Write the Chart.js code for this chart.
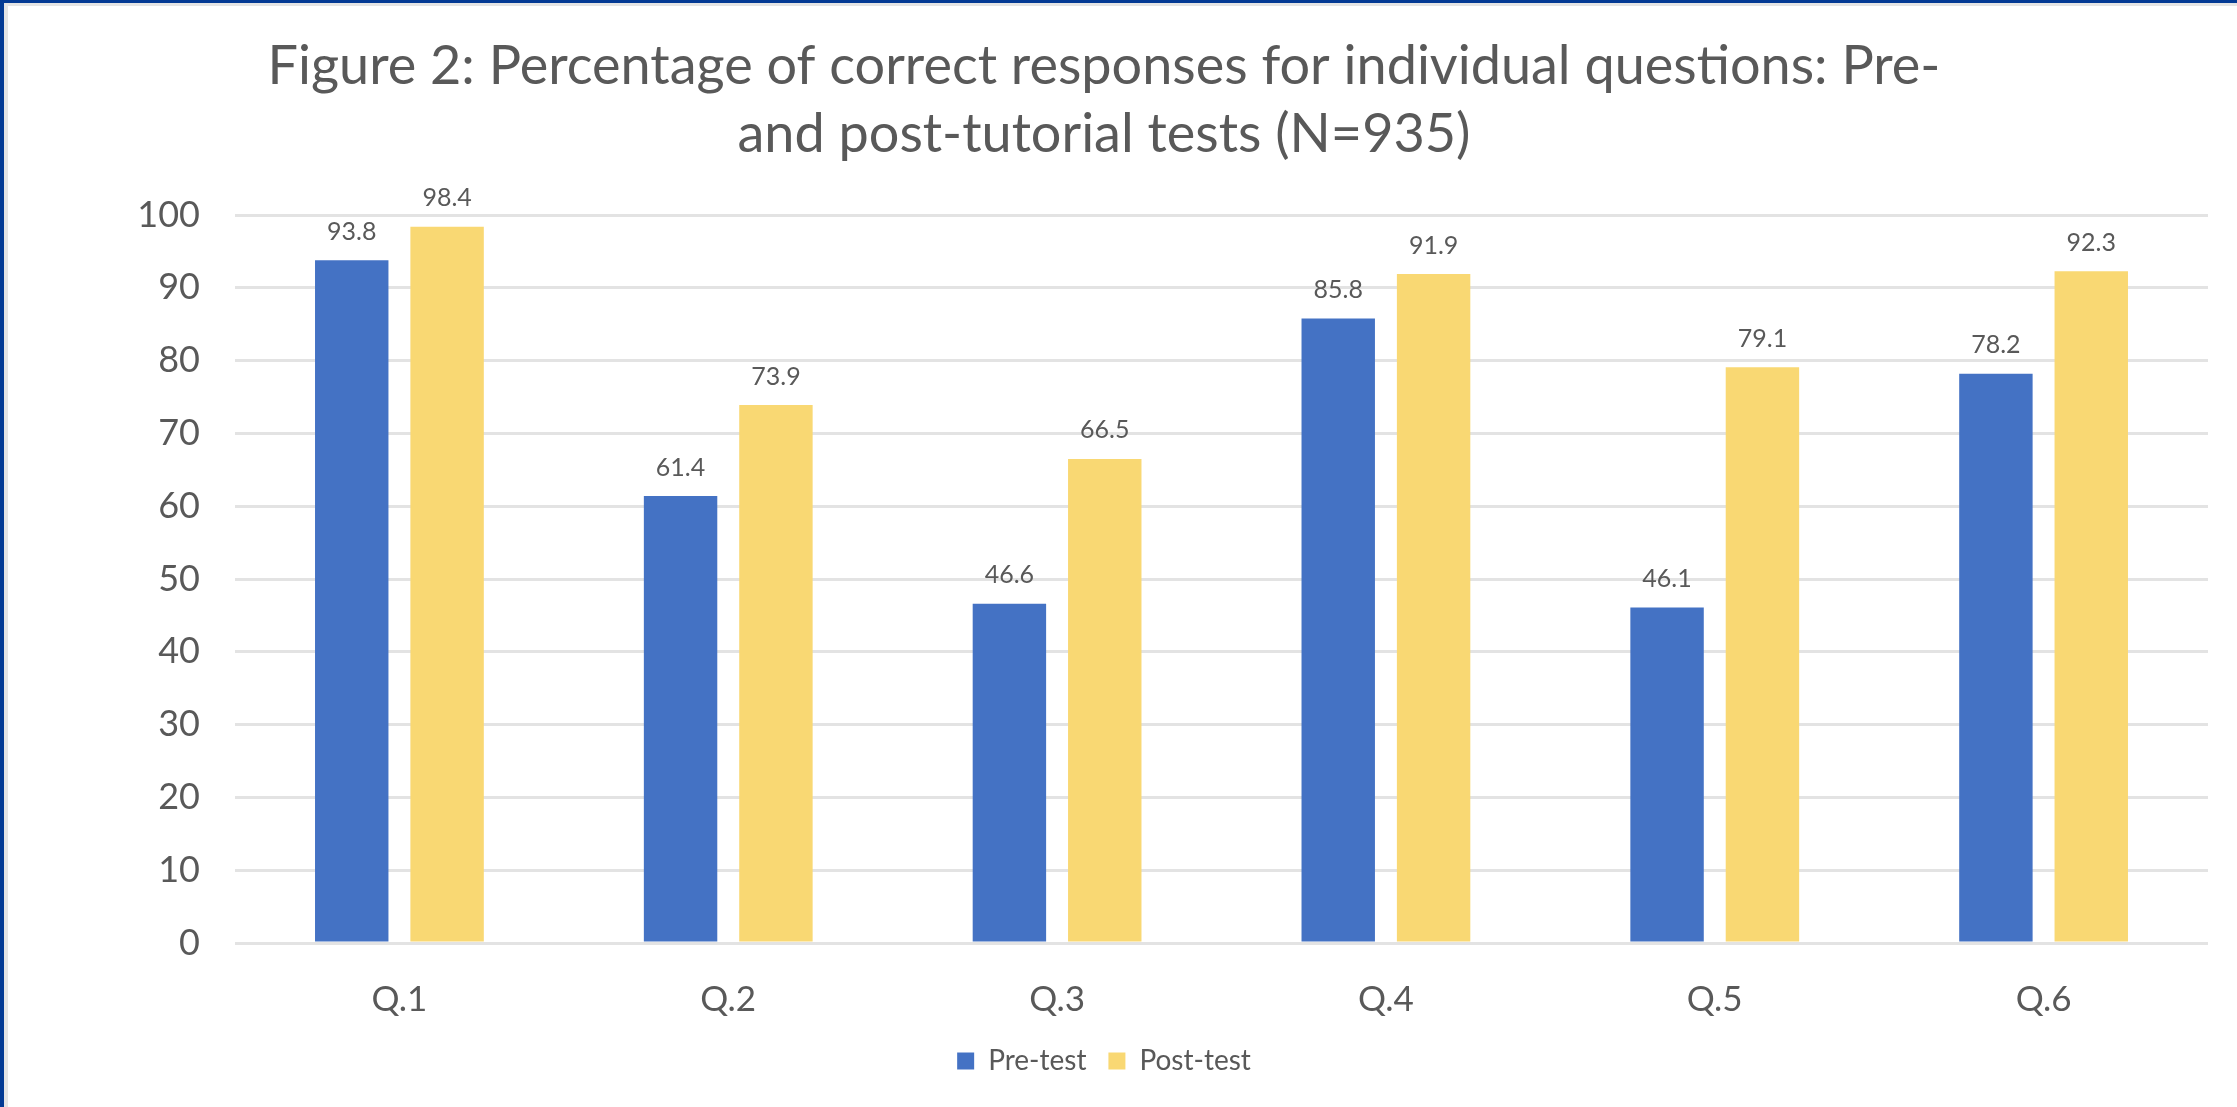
<!DOCTYPE html>
<html>
<head>
<meta charset="utf-8">
<script src="https://cdn.jsdelivr.net/npm/chart.js@4/dist/chart.umd.min.js"></script>
<style>
  html, body { margin: 0; padding: 0; background: #fff; }
  #wrap { position: relative; width: 2237px; height: 1107px; }
  #frame { position: absolute; left: 0; top: 0; width: 2237px; height: 1107px; box-sizing: border-box;
           border-left: 4px solid #033a94; border-top: 3px solid #033a94; pointer-events: none; }
  #frame2 { position: absolute; left: 4px; top: 3px; width: 2233px; height: 1104px; box-sizing: border-box;
            border-left: 4px solid #e4e4e4; border-top: 3px solid #e4e4e4; pointer-events: none; }
</style>
</head>
<body>
<div id="wrap">
  <canvas id="myChart" width="2237" height="1107"></canvas>
  <div id="frame"></div>
  <div id="frame2"></div>
</div>
<script>
// data
var questions = ['Q.1', 'Q.2', 'Q.3', 'Q.4', 'Q.5', 'Q.6'];
var preTest = [93.8, 61.4, 46.6, 85.8, 46.1, 78.2];
var postTest = [98.4, 73.9, 66.5, 91.9, 79.1, 92.3];
var yTicks = [0, 10, 20, 30, 40, 50, 60, 70, 80, 90, 100];

var textGrey = '#595959';
var fontName = 'Lato';

// numbers above the bars
var valueLabels = {
  id: 'valueLabels',
  afterDatasetsDraw: function(chart) {
    var ctx = chart.ctx;
    ctx.save();
    ctx.font = '25px ' + fontName;
    ctx.fillStyle = textGrey;
    ctx.textAlign = 'center';
    ctx.textBaseline = 'bottom';
    chart.data.datasets.forEach(function(ds, i) {
      chart.getDatasetMeta(i).data.forEach(function(bar, j) {
        ctx.fillText(ds.data[j].toFixed(1), bar.x, bar.y - 16);
      });
    });
    ctx.restore();
  }
};

var ctx = document.getElementById('myChart').getContext('2d');
var chart = new Chart(ctx, {
  type: 'bar',
  data: {
    labels: questions,
    datasets: [{
      label: 'Pre-test',
      backgroundColor: '#4472c4',
      data: preTest
    }, {
      label: 'Post-test',
      backgroundColor: '#f9d873',
      data: postTest
    }]
  },
  options: {
    responsive: false,
    animation: false,
    devicePixelRatio: 1,
    categoryPercentage: 0.58,
    barPercentage: 0.77,
    layout: { padding: { left: 0, right: 29, top: 0, bottom: 22 } },
    plugins: {
      title: {
        display: true,
        text: ['Figure 2: Percentage of correct responses for individual questions: Pre-',
               'and post-tutorial tests (N=935)'],
        color: textGrey,
        font: { family: fontName, size: 54, weight: 'normal', lineHeight: 1.26 },
        padding: { top: 33, bottom: 46 }
      },
      legend: {
        position: 'bottom',
        labels: {
          color: textGrey,
          font: { family: fontName, size: 28 },
          boxWidth: 17,
          boxHeight: 17,
          padding: 22
        }
      },
      tooltip: { enabled: false }
    },
    scales: {
      x: {
        grid: { display: false },
        border: { display: false },
        afterFit: function(scale) { scale.height = scale.height - 24; },
        ticks: { color: textGrey, font: { family: fontName, size: 35 }, padding: 28 }
      },
      y: {
        min: 0,
        max: 100,
        afterBuildTicks: function(scale) {
          scale.ticks = yTicks.map(function(v) { return { value: v }; });
        },
        afterFit: function(scale) { scale.width = 235; },
        grid: { color: '#e3e3e3', lineWidth: 3, drawTicks: false },
        border: { display: false },
        ticks: { color: textGrey, font: { family: fontName, size: 36 }, padding: 35 }
      }
    }
  },
  plugins: [valueLabels]
});
</script>
</body>
</html>
